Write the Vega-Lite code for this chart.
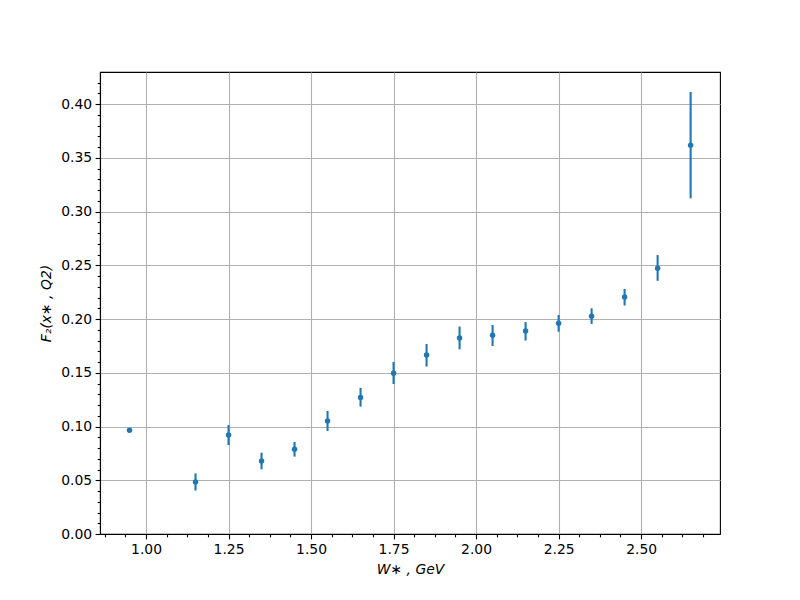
{
  "$schema": "https://vega.github.io/schema/vega-lite/v6.json",
  "width": 620,
  "height": 462,
  "autosize": "none",
  "padding": {"left": 100, "top": 72, "right": 80, "bottom": 66},
  "background": "white",
  "config": {
    "view": {"stroke": "black", "strokeWidth": 1.1},
    "axis": {
      "labelFont": "DejaVu Sans",
      "labelFontSize": 13.9,
      "labelColor": "black",
      "titleFont": "DejaVu Sans",
      "titleFontSize": 13.9,
      "titleFontWeight": "normal",
      "titleColor": "black",
      "tickColor": "black",
      "domainColor": "black",
      "tickWidth": 1.1,
      "domainWidth": 1.1,
      "gridColor": "#b0b0b0",
      "gridWidth": 1.1,
      "gridOpacity": 1
    }
  },
  "data": {
    "values": [
      {"w": 0.95, "f2": 0.0965, "lo": 0.0965, "hi": 0.0965},
      {"w": 1.15, "f2": 0.0484, "lo": 0.0404, "hi": 0.0564},
      {"w": 1.25, "f2": 0.0921, "lo": 0.0828, "hi": 0.1014},
      {"w": 1.35, "f2": 0.0679, "lo": 0.0602, "hi": 0.0756},
      {"w": 1.45, "f2": 0.0788, "lo": 0.0720, "hi": 0.0856},
      {"w": 1.55, "f2": 0.1051, "lo": 0.0958, "hi": 0.1144},
      {"w": 1.65, "f2": 0.1271, "lo": 0.1185, "hi": 0.1360},
      {"w": 1.75, "f2": 0.1495, "lo": 0.1395, "hi": 0.1600},
      {"w": 1.85, "f2": 0.1665, "lo": 0.1558, "hi": 0.1767},
      {"w": 1.95, "f2": 0.1823, "lo": 0.1718, "hi": 0.1930},
      {"w": 2.05, "f2": 0.1848, "lo": 0.1749, "hi": 0.1944},
      {"w": 2.15, "f2": 0.1888, "lo": 0.1800, "hi": 0.1972},
      {"w": 2.25, "f2": 0.1960, "lo": 0.1882, "hi": 0.2037},
      {"w": 2.35, "f2": 0.2025, "lo": 0.1955, "hi": 0.2100},
      {"w": 2.45, "f2": 0.2205, "lo": 0.2126, "hi": 0.2280},
      {"w": 2.55, "f2": 0.2472, "lo": 0.2355, "hi": 0.2595},
      {"w": 2.65, "f2": 0.3616, "lo": 0.3123, "hi": 0.4112}
    ]
  },
  "layer": [
    {
      "mark": {"type": "rule", "color": "#1f77b4", "strokeWidth": 2.1},
      "encoding": {
        "x": {
          "field": "w", "type": "quantitative",
          "scale": {"domain": [0.8606, 2.739], "nice": false, "zero": false},
          "axis": {
            "orient": "bottom",
            "values": [1.0, 1.25, 1.5, 1.75, 2.0, 2.25, 2.5],
            "format": ".2f",
            "grid": true,
            "tickSize": 4.9,
            "labelPadding": 3.5,
            "labelFlush": false,
            "labelOverlap": false,
            "title": "W∗ , GeV",
            "titleFontStyle": "italic",
            "titlePadding": 6.5
          }
        },
        "y": {
          "field": "lo", "type": "quantitative",
          "scale": {"domain": [0, 0.4298], "nice": false},
          "axis": {
            "orient": "left",
            "values": [0, 0.05, 0.1, 0.15, 0.2, 0.25, 0.3, 0.35, 0.4],
            "format": ".2f",
            "grid": true,
            "tickSize": 4.9,
            "labelPadding": 3.5,
            "labelFlush": false,
            "labelOverlap": false,
            "title": "F₂(x∗ , Q2)",
            "titleFontStyle": "italic",
            "titlePadding": 7
          }
        },
        "y2": {"field": "hi"}
      }
    },
    {
      "mark": {"type": "point", "filled": true, "color": "#1f77b4", "size": 30, "opacity": 1},
      "encoding": {
        "x": {
          "field": "w", "type": "quantitative",
          "axis": {
            "orient": "bottom",
            "values": [0.875, 0.9375, 1.0625, 1.125, 1.1875, 1.3125, 1.375, 1.4375, 1.5625, 1.625, 1.6875, 1.8125, 1.875, 1.9375, 2.0625, 2.125, 2.1875, 2.3125, 2.375, 2.4375, 2.5625, 2.625, 2.6875],
            "labels": false,
            "grid": false,
            "domain": false,
            "tickSize": 2.8,
            "title": null
          }
        },
        "y": {
          "field": "f2", "type": "quantitative",
          "axis": {
            "orient": "left",
            "values": [0.01, 0.02, 0.03, 0.04, 0.06, 0.07, 0.08, 0.09, 0.11, 0.12, 0.13, 0.14, 0.16, 0.17, 0.18, 0.19, 0.21, 0.22, 0.23, 0.24, 0.26, 0.27, 0.28, 0.29, 0.31, 0.32, 0.33, 0.34, 0.36, 0.37, 0.38, 0.39, 0.41, 0.42],
            "labels": false,
            "grid": false,
            "domain": false,
            "tickSize": 2.8,
            "title": null
          }
        }
      }
    }
  ],
  "resolve": {"axis": {"x": "independent", "y": "independent"}}
}
